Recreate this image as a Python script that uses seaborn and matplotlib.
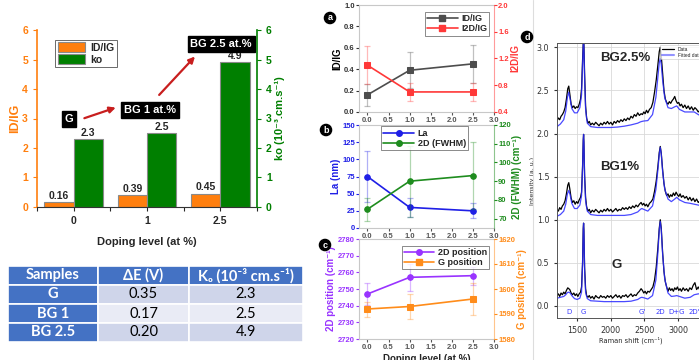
import numpy as np
import pandas as pd
import matplotlib
matplotlib.use("Agg")
import matplotlib.pyplot as plt
from matplotlib.lines import Line2D
import seaborn as sns

sns.set_style("white")
plt.rcParams['font.family'] = ['Liberation Sans', 'DejaVu Sans']

ORANGE = "#FF7F0E"
GREEN = "#007F00"

# bar chart data
doping_labels = ["0", "1", "2.5"]
id_ig = [0.16, 0.39, 0.45]
ko = [2.3, 2.5, 4.9]

# table
table_header = ["Samples", "ΔE (V)", "K₀ (10⁻³ cm.s⁻¹)"]
table_samples = ["G", "BG 1", "BG 2.5"]
table_de = ["0.35", "0.17", "0.20"]
table_k0 = ["2.3", "2.5", "4.9"]

# panels a-c
doping = [0.0, 1.0, 2.5]
a_idig = [0.16, 0.39, 0.45]
a_idig_err = [0.10, 0.17, 0.18]
a_i2dig = [1.10, 0.70, 0.70]
a_i2dig_err = [0.28, 0.14, 0.14]
b_la = [75, 30, 25]
b_la_err = [37, 14, 11]
b_fwhm = [75, 90, 93]
b_fwhm_err = [6, 19, 18]
c_2d = [2747, 2757, 2758]
c_2d_err = [6.5, 8, 5.5]
c_g = [1592, 1593, 1596]
c_g_err = [3, 5, 6.5]

# panel d: fitted spectra
fit_x = [1200, 1250, 1300, 1330, 1355, 1375, 1395, 1420, 1460, 1500,
         1540, 1565, 1580, 1590, 1595, 1600, 1610, 1625, 1650, 1700,
         1800, 1900, 2000, 2100, 2200, 2300, 2400, 2440, 2460, 2490,
         2550, 2620, 2670, 2700, 2720, 2735, 2750, 2770, 2800, 2850,
         2900, 2950, 2980, 3020, 3100, 3180, 3240, 3300, 3400]
fit_g = [0.09, 0.10, 0.11, 0.13, 0.155, 0.16, 0.15, 0.12, 0.085, 0.075,
         0.09, 0.16, 0.48, 0.88, 0.96, 0.86, 0.42, 0.16, 0.085, 0.06,
         0.055, 0.05, 0.05, 0.05, 0.05, 0.055, 0.075, 0.095, 0.10, 0.095,
         0.08, 0.12, 0.30, 0.62, 0.88, 0.98, 0.88, 0.60, 0.32, 0.15,
         0.11, 0.115, 0.12, 0.11, 0.09, 0.10, 0.13, 0.14, 0.14]
fit_bg1 = [1.04, 1.06, 1.10, 1.18, 1.30, 1.34, 1.29, 1.19, 1.13, 1.13,
           1.17, 1.28, 1.60, 1.92, 1.99, 1.90, 1.50, 1.22, 1.10, 1.06,
           1.05, 1.05, 1.05, 1.05, 1.05, 1.06, 1.09, 1.12, 1.13, 1.12,
           1.10, 1.16, 1.35, 1.58, 1.76, 1.84, 1.76, 1.56, 1.36, 1.24,
           1.21, 1.24, 1.26, 1.23, 1.20, 1.19, 1.18, 1.17, 1.15]
fit_bg25 = [2.08, 2.11, 2.16, 2.26, 2.42, 2.48, 2.40, 2.29, 2.24, 2.24,
            2.30, 2.45, 2.80, 3.02, 3.10, 3.00, 2.65, 2.28, 2.12, 2.08,
            2.07, 2.07, 2.07, 2.075, 2.085, 2.10, 2.12, 2.135, 2.14, 2.145,
            2.15, 2.22, 2.42, 2.66, 2.82, 2.87, 2.80, 2.62, 2.42, 2.30,
            2.29, 2.31, 2.32, 2.28, 2.25, 2.25, 2.25, 2.22, 2.18]

# panel d: measured spectra
data_x = [1200, 1220, 1240, 1260, 1280, 1300, 1320, 1340, 1360, 1375,
          1390, 1410, 1430, 1450, 1470, 1490, 1510, 1530, 1550, 1565,
          1580, 1590, 1595, 1600, 1610, 1625, 1640, 1660, 1680, 1700,
          1725, 1750, 1775, 1800, 1825, 1850, 1875, 1900, 1925, 1950,
          1975, 2000, 2025, 2050, 2075, 2100, 2125, 2150, 2175, 2200,
          2225, 2250, 2275, 2300, 2325, 2350, 2375, 2400, 2425, 2450,
          2470, 2490, 2510, 2530, 2550, 2575, 2600, 2625, 2650, 2675,
          2700, 2720, 2735, 2750, 2770, 2790, 2810, 2830, 2850, 2870,
          2890, 2910, 2930, 2950, 2970, 2990, 3010, 3030, 3050, 3075,
          3100, 3125, 3150, 3175, 3200, 3225, 3250, 3275, 3300, 3325,
          3350, 3375, 3400]
data_g = [0.12, 0.14, 0.11, 0.15, 0.13, 0.16, 0.14, 0.18, 0.21, 0.20,
          0.19, 0.15, 0.13, 0.15, 0.12, 0.14, 0.11, 0.14, 0.16, 0.22,
          0.50, 0.90, 0.96, 0.88, 0.45, 0.20, 0.12, 0.10, 0.12, 0.09,
          0.11, 0.08, 0.12, 0.10, 0.09, 0.12, 0.10, 0.11, 0.09, 0.12,
          0.10, 0.12, 0.09, 0.11, 0.13, 0.10, 0.12, 0.09, 0.12, 0.11,
          0.13, 0.10, 0.12, 0.14, 0.11, 0.13, 0.12, 0.15, 0.17, 0.20,
          0.18, 0.15, 0.17, 0.14, 0.17, 0.16, 0.19, 0.22, 0.30, 0.45,
          0.68, 0.90, 1.00, 0.90, 0.62, 0.40, 0.28, 0.22, 0.17, 0.21,
          0.18, 0.20, 0.17, 0.21, 0.19, 0.22, 0.18, 0.20, 0.17, 0.21,
          0.18, 0.20, 0.17, 0.21, 0.19, 0.24, 0.27, 0.19, 0.22, 0.18,
          0.21, 0.19, 0.20]
data_bg1 = [1.12, 1.10, 1.14, 1.12, 1.16, 1.18, 1.22, 1.30, 1.40, 1.43,
            1.36, 1.25, 1.20, 1.22, 1.18, 1.21, 1.19, 1.23, 1.26, 1.32,
            1.62, 1.92, 1.99, 1.90, 1.52, 1.26, 1.15, 1.10, 1.12, 1.08,
            1.11, 1.09, 1.12, 1.10, 1.08, 1.11, 1.09, 1.12, 1.10, 1.13,
            1.10, 1.12, 1.09, 1.11, 1.13, 1.10, 1.12, 1.11, 1.14, 1.12,
            1.14, 1.12, 1.15, 1.13, 1.16, 1.14, 1.17, 1.15, 1.18, 1.20,
            1.17, 1.19, 1.16, 1.18, 1.15, 1.19, 1.21, 1.24, 1.33, 1.45,
            1.62, 1.78, 1.85, 1.77, 1.58, 1.42, 1.33, 1.28, 1.30, 1.26,
            1.29, 1.27, 1.31, 1.28, 1.32, 1.29, 1.27, 1.30, 1.26, 1.28,
            1.25, 1.27, 1.23, 1.26, 1.22, 1.25, 1.21, 1.24, 1.20, 1.22,
            1.19, 1.21, 1.18]
data_bg25 = [2.15, 2.18, 2.16, 2.20, 2.22, 2.25, 2.30, 2.40, 2.52, 2.55,
             2.46, 2.34, 2.30, 2.32, 2.29, 2.31, 2.30, 2.34, 2.40, 2.52,
             2.85, 3.05, 3.12, 3.04, 2.70, 2.32, 2.18, 2.12, 2.14, 2.10,
             2.12, 2.10, 2.13, 2.11, 2.09, 2.12, 2.10, 2.13, 2.11, 2.14,
             2.11, 2.13, 2.10, 2.14, 2.12, 2.15, 2.13, 2.16, 2.14, 2.17,
             2.15, 2.18, 2.16, 2.20, 2.18, 2.22, 2.20, 2.24, 2.21, 2.23,
             2.22, 2.25, 2.23, 2.27, 2.24, 2.28, 2.30, 2.36, 2.48, 2.62,
             2.80, 2.95, 3.00, 2.90, 2.70, 2.50, 2.40, 2.36, 2.34, 2.37,
             2.35, 2.38, 2.40, 2.43, 2.38, 2.35, 2.36, 2.32, 2.34, 2.30,
             2.33, 2.29, 2.32, 2.28, 2.31, 2.27, 2.30, 2.28, 2.25, 2.27,
             2.24, 2.26, 2.23]
peak_names = ["D", "G", "G'", "2D", "D+G", "2D'"]
peak_pos = [1375, 1595, 2460, 2735, 2980, 3240]

W, H = 699, 360


def rect(x0, y0, x1, y1):
    # pixel box -> figure fraction
    return [x0 / W, 1 - y1 / H, (x1 - x0) / W, (y1 - y0) / H]


fig = plt.figure(figsize=(6.99, 3.6), dpi=100)

# ---------------- bar chart ----------------
ax1 = fig.add_axes(rect(37, 30, 257, 207))
df_bars = pd.DataFrame({
    "doping": doping_labels * 2,
    "value": id_ig + ko,
    "series": ["ID/IG"] * 3 + ["ko"] * 3,
})
sns.barplot(data=df_bars, x="doping", y="value", hue="series",
            palette=[ORANGE, GREEN], saturation=1, width=0.8,
            edgecolor="#8a8a8a", linewidth=0.8, ax=ax1)
for cont, labs in zip(ax1.containers, [id_ig, ko]):
    ax1.bar_label(cont, labels=[f"{v:g}" for v in labs], padding=1,
                  fontsize=7.5, fontweight="bold")
ax1.set_xlim(-0.5, 2.5)
ax1.set_ylim(0, 6)
ax1.set_yticks(range(7))
ax1.set_xticks([-0.5, 0.5, 1.5, 2.5], minor=True)
ax1.tick_params(axis="x", which="both", direction="out", length=3, width=0.8,
                labelsize=7.5, bottom=True)
ax1.tick_params(axis="y", direction="out", length=3, width=0.8, colors=ORANGE,
                labelsize=7.5, left=True)
for t in ax1.get_xticklabels() + ax1.get_yticklabels():
    t.set_fontweight("bold")
ax1.set_xlabel("Doping level (at %)", fontsize=8, fontweight="bold", labelpad=8)
ax1.set_ylabel("ID/IG", fontsize=9, fontweight="bold", color=ORANGE, labelpad=1)
ax1.spines["top"].set_visible(False)
ax1.spines["right"].set_visible(False)
ax1.spines["left"].set_color(ORANGE)
ax1.spines["left"].set_linewidth(1.2)
ax1.spines["bottom"].set_color("#333333")
leg = ax1.legend(loc="upper left", bbox_to_anchor=(0.06, 0.975),
                 prop={"weight": "bold", "size": 7.5}, frameon=True,
                 fancybox=False, edgecolor="#444444", handlelength=2.6,
                 handleheight=1.1, borderpad=0.25, labelspacing=0.15,
                 handletextpad=0.5)
leg.get_frame().set_linewidth(0.7)

ax1r = ax1.twinx()
ax1r.set_ylim(0, 6)
ax1r.set_yticks(range(7))
ax1r.tick_params(axis="y", direction="out", length=3, width=0.8, colors=GREEN,
                 labelsize=7.5, right=True)
for t in ax1r.get_yticklabels():
    t.set_fontweight("bold")
for s in ["top", "left", "bottom"]:
    ax1r.spines[s].set_visible(False)
ax1r.spines["right"].set_color(GREEN)
ax1r.spines["right"].set_linewidth(1.2)
ax1r.set_ylabel("ko (10⁻³.cm.s⁻¹)", fontsize=8, fontweight="bold", color=GREEN,
                labelpad=2)

box = dict(boxstyle="square,pad=0.25", fc="black", ec="black")
ax1.text(-0.065, 2.98, "G", color="white", fontsize=8, fontweight="bold",
         ha="center", va="center", bbox=box)
ax1.text(1.04, 3.29, "BG 1 at.%", color="white", fontsize=8, fontweight="bold",
         ha="center", va="center", bbox=box)
ax1.text(2.01, 5.53, "BG 2.5 at.%", color="white", fontsize=8,
         fontweight="bold", ha="center", va="center", bbox=box)
arrow = dict(arrowstyle="-|>", color="#C81E1E", lw=1.6, mutation_scale=9)
ax1.annotate("", xy=(0.61, 3.40), xytext=(0.11, 2.98), arrowprops=arrow)
ax1.annotate("", xy=(1.68, 5.17), xytext=(1.14, 3.73), arrowprops=arrow)

# ---------------- table ----------------
tax = fig.add_axes(rect(8, 266, 303, 342))
tax.axis("off")
cells = [table_header] + [[s, e, k] for s, e, k in zip(table_samples, table_de, table_k0)]
tbl = tax.table(cellText=cells, bbox=[0, 0, 1, 1], cellLoc="center",
                colWidths=[90 / 295, 91 / 295, 114 / 295])
tbl.auto_set_font_size(False)
tbl.set_fontsize(10.5)
row_bg = ["#CFD5EA", "#E9EBF5", "#CFD5EA"]
for (r, c), cell in tbl.get_celld().items():
    cell.set_edgecolor("white")
    cell.set_linewidth(1.2)
    txt = cell.get_text()
    txt.set_fontfamily(["Lato", "DejaVu Sans"])
    if r == 0 or c == 0:
        cell.set_facecolor("#4472C4")
        txt.set_color("white")
        txt.set_fontweight("bold")
    else:
        cell.set_facecolor(row_bg[r - 1])
        txt.set_color("black")

# ---------------- panels a-c ----------------
def twin_panel(box_px, lv, le, rv, re, lc, rc, ln, rn, llim, rlim,
               lticks, rticks, llab, rlab, lmk, rmk, leg_kw, ltick_c):
    ax = fig.add_axes(rect(*box_px))
    axr = ax.twinx()
    sns.lineplot(x=doping, y=lv, color=lc, marker=lmk, markersize=4,
                 markeredgecolor=lc, lw=1.2, ax=ax, label=ln, legend=False)
    ax.errorbar(doping, lv, yerr=le, fmt="none", ecolor=lc, alpha=0.35,
                capsize=2, elinewidth=0.9, capthick=0.9)
    sns.lineplot(x=doping, y=rv, color=rc, marker=rmk, markersize=4,
                 markeredgecolor=rc, lw=1.2, ax=axr, label=rn, legend=False)
    axr.errorbar(doping, rv, yerr=re, fmt="none", ecolor=rc, alpha=0.35,
                 capsize=2, elinewidth=0.9, capthick=0.9)
    ax.set_xlim(-0.2, 3.0)
    ax.set_xticks(np.arange(0, 3.01, 0.5))
    ax.set_ylim(*llim)
    ax.set_yticks(lticks)
    axr.set_ylim(*rlim)
    axr.set_yticks(rticks)
    ax.set_xticklabels([f"{v:.1f}" for v in np.arange(0, 3.01, 0.5)])
    ax.tick_params(axis="x", labelsize=5.5, colors="#555555", length=2,
                   direction="out", bottom=True, pad=1.5)
    ax.tick_params(axis="y", labelsize=5.5, colors=ltick_c, length=2,
                   direction="out", left=True, pad=1)
    axr.tick_params(axis="y", labelsize=5.5, colors=rc, length=2,
                    direction="out", right=True, pad=1)
    for t in ax.get_xticklabels() + ax.get_yticklabels() + axr.get_yticklabels():
        t.set_fontweight("bold")
    ax.set_ylabel(llab, fontsize=7, fontweight="bold",
                  color=("black" if ltick_c == "#333333" else lc), labelpad=1)
    axr.set_ylabel(rlab, fontsize=7, fontweight="bold", color=rc, labelpad=1)
    for s in ["top", "bottom", "left"]:
        ax.spines[s].set_color("#c8c8c8")
        axr.spines[s].set_visible(False)
    ax.spines["right"].set_visible(False)
    axr.spines["right"].set_color(rc)
    axr.spines["right"].set_alpha(0.5)
    handles = [Line2D([], [], color=lc, marker=lmk, markersize=4, lw=1.2),
               Line2D([], [], color=rc, marker=rmk, markersize=4, lw=1.2)]
    lg = axr.legend(handles, [ln, rn], prop={"weight": "bold", "size": 6.5},
                    fancybox=False, edgecolor="#555555", borderpad=0.25,
                    labelspacing=0.15, handlelength=3.4, handletextpad=0.4,
                    **leg_kw)
    lg.get_frame().set_linewidth(0.6)
    return ax


twin_panel((359, 5, 494, 112), a_idig, a_idig_err, a_i2dig, a_i2dig_err,
           "#4d4d4d", "#FF3838", "ID/IG", "I2D/IG", (0, 1.0), (0.4, 2.0),
           np.arange(0, 1.01, 0.2), np.arange(0.4, 2.01, 0.4), "ID/IG", "I2D/IG",
           "s", "s", dict(loc="upper right", bbox_to_anchor=(1.0, 0.98)),
           "#333333")
twin_panel((359, 125, 494, 228), b_la, b_la_err, b_fwhm, b_fwhm_err,
           "#1F1FE6", "#1E8C1E", "La", "2D (FWHM)", (0, 150), (65, 120),
           np.arange(0, 151, 25), np.arange(70, 121, 10), "La (nm)",
           "2D (FWHM) (cm⁻¹)", "o", "o",
           dict(loc="upper left", bbox_to_anchor=(0.13, 1.03)), "#1F1FE6")
axc = twin_panel((359, 239, 494, 339), c_2d, c_2d_err, c_g, c_g_err,
                 "#9933FF", "#FF8C1A", "2D position", "G position",
                 (2720, 2780), (1580, 1620), np.arange(2720, 2781, 10),
                 np.arange(1580, 1621, 10), "2D position (cm⁻¹)",
                 "G position (cm⁻¹)", "o", "s",
                 dict(loc="upper right", bbox_to_anchor=(1.0, 0.98)), "#9933FF")
axc.set_xlabel("Doping level (at %)", fontsize=7, fontweight="bold", labelpad=2)

# ---------------- panel d: Raman ----------------
axd = fig.add_axes(rect(557, 43, 705, 318))
for dx, dy in [(data_x, data_bg25), (data_x, data_bg1), (data_x, data_g)]:
    sns.lineplot(x=dx, y=dy, color="black", lw=0.9, ax=axd, legend=False)
for fy in [fit_bg25, fit_bg1, fit_g]:
    sns.lineplot(x=fit_x, y=fy, color="#2A2AFF", lw=0.9, alpha=0.85, ax=axd,
                 legend=False)
axd.set_xlim(1200, 3400)
axd.set_ylim(-0.14, 3.05)
axd.set_xticks([1500, 2000, 2500, 3000])
axd.set_yticks(np.arange(0, 3.01, 0.5))
axd.set_yticklabels([f"{v:.1f}" for v in np.arange(0, 3.01, 0.5)])
axd.grid(True, color="#d9d9d9", lw=0.6)
axd.tick_params(labelsize=5.8, colors="#333333", length=2, direction="out",
                left=True, bottom=True)
for t in axd.get_xticklabels() + axd.get_yticklabels():
    t.set_fontfamily("DejaVu Sans")
for s in axd.spines.values():
    s.set_color("#555555")
    s.set_linewidth(0.7)
axd.set_xlabel("Raman shift (cm⁻¹)", fontsize=4.8, family="DejaVu Sans",
               labelpad=1)
axd.set_ylabel("Intensity (a. u.)", fontsize=4.5, family="DejaVu Sans",
               labelpad=1)
for name, pos in zip(peak_names, peak_pos):
    axd.text(pos, -0.07, name, color="#3B3BFF", fontsize=5, ha="center",
             va="center", family="DejaVu Sans")
axd.text(2220, 2.88, "BG2.5%", fontsize=9.5, fontweight="bold", ha="center",
         va="center")
axd.text(2130, 1.61, "BG1%", fontsize=9.5, fontweight="bold", ha="center",
         va="center")
axd.text(2090, 0.48, "G", fontsize=9.5, fontweight="bold", ha="center",
         va="center")
dleg = axd.legend([Line2D([], [], color="black", lw=0.9),
                   Line2D([], [], color="#2A2AFF", lw=1.5, alpha=0.5)],
                  ["Data", "Fitted data"], loc="upper right", fontsize=3.5,
                  fancybox=False, edgecolor="#bbbbbb", borderpad=0.3,
                  labelspacing=0.2, handlelength=2.5)
dleg.get_frame().set_linewidth(0.4)

# separator and panel letters
fig.add_artist(Line2D([533 / W, 533 / W], [0, 1], color="#dddddd", lw=0.8))
for letter, px, py in [("a", 330, 18), ("b", 326, 130), ("c", 325, 245),
                       ("d", 527, 37)]:
    fig.text(px / W, 1 - py / H, letter, color="white", fontsize=6.5,
             fontweight="bold", ha="center", va="center",
             bbox=dict(boxstyle="circle,pad=0.12", fc="black", ec="black"))

fig.savefig("out.png", dpi=100)
